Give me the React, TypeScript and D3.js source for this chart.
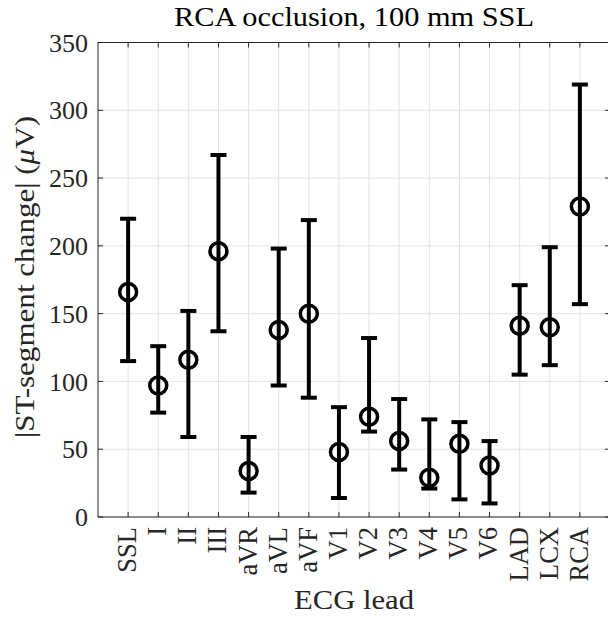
import * as d3 from "d3";

const leads = ["SSL", "I", "II", "III", "aVR", "aVL", "aVF", "V1", "V2", "V3", "V4", "V5", "V6", "LAD", "LCX", "RCA"];
const means = [166, 97, 116, 196, 34, 138, 150, 48, 74, 56, 29, 54, 38, 141, 140, 229];
const lowers = [115, 77, 59, 137, 18, 97, 88, 14, 63, 35, 21, 13, 10, 105, 112, 157];
const uppers = [220, 126, 152, 267, 59, 198, 219, 81, 132, 87, 72, 70, 56, 171, 199, 319];
const yTicks = [0, 50, 100, 150, 200, 250, 300, 350];

const W = 608;
const H = 617;
const left = 98;
const right = 610;
const top = 42.5;
const bottom = 517;
const font = "'Liberation Serif', 'Times New Roman', serif";
const axisColor = "#262626";
const gridColor = "#e3e3e3";

export default function App() {
  const x = d3.scaleLinear().domain([0, leads.length + 1]).range([left, right]);
  const y = d3.scaleLinear().domain([0, 350]).range([bottom, top]);
  const cap = 8;

  return (
    <svg
      width={W}
      height={H}
      viewBox={`0 0 ${W} ${H}`}
      style={{ position: "fixed", left: 0, top: 0, background: "#fff" }}
      fontFamily={font}
    >
      <rect width={W} height={H} fill="#fff" />
      {/* grid */}
      <g stroke={gridColor} strokeWidth={1}>
        {leads.map((d, i) => (
          <line key={d} x1={x(i + 1)} x2={x(i + 1)} y1={top} y2={bottom} />
        ))}
        {yTicks.map((t) => (
          <line key={t} x1={left} x2={right} y1={y(t)} y2={y(t)} />
        ))}
      </g>
      {/* axes box and ticks */}
      <g stroke={axisColor} strokeWidth={1} fill="none">
        <rect x={left} y={top} width={right - left} height={bottom - top} />
        {leads.map((d, i) => (
          <g key={d}>
            <line x1={x(i + 1)} x2={x(i + 1)} y1={bottom} y2={bottom - 5} />
            <line x1={x(i + 1)} x2={x(i + 1)} y1={top} y2={top + 5} />
          </g>
        ))}
        {yTicks.map((t) => (
          <g key={t}>
            <line x1={left} x2={left + 5} y1={y(t)} y2={y(t)} />
            <line x1={right} x2={right - 5} y1={y(t)} y2={y(t)} />
          </g>
        ))}
      </g>
      {/* y tick labels */}
      <g fontSize={26} fill="#262626" textAnchor="end">
        {yTicks.map((t) => (
          <text key={t} x={left - 10} y={y(t)} dy="0.35em">
            {t}
          </text>
        ))}
      </g>
      {/* x tick labels */}
      <g fontSize={26.5} fill="#262626" textAnchor="end">
        {leads.map((d, i) => (
          <text
            key={d}
            transform={`translate(${x(i + 1)},${bottom + 10}) rotate(-90)`}
            dy="0.3em"
          >
            {d}
          </text>
        ))}
      </g>
      {/* error bars */}
      <g stroke="#000" strokeWidth={4} fill="none">
        {leads.map((d, i) => (
          <g key={d}>
            <line x1={x(i + 1)} x2={x(i + 1)} y1={y(lowers[i])} y2={y(uppers[i])} />
            <line x1={x(i + 1) - cap} x2={x(i + 1) + cap} y1={y(lowers[i])} y2={y(lowers[i])} />
            <line x1={x(i + 1) - cap} x2={x(i + 1) + cap} y1={y(uppers[i])} y2={y(uppers[i])} />
            <circle cx={x(i + 1)} cy={y(means[i])} r={8.5} strokeWidth={3.5} />
          </g>
        ))}
      </g>
      {/* labels */}
      <text
        x={(left + right) / 2}
        y={26}
        textAnchor="middle"
        fontSize={28}
        fill="#000"
        textLength={360}
        lengthAdjust="spacingAndGlyphs"
      >
        RCA occlusion, 100 mm SSL
      </text>
      <text
        x={(left + right) / 2}
        y={609}
        textAnchor="middle"
        fontSize={28}
        fill="#262626"
        textLength={120}
        lengthAdjust="spacingAndGlyphs"
      >
        ECG lead
      </text>
      <text
        transform={`translate(34,${277}) rotate(-90)`}
        textAnchor="middle"
        fontSize={28}
        fill="#262626"
        textLength={322}
        lengthAdjust="spacingAndGlyphs"
      >
        |ST-segment change| (<tspan fontStyle="italic">μ</tspan>V)
      </text>
    </svg>
  );
}
